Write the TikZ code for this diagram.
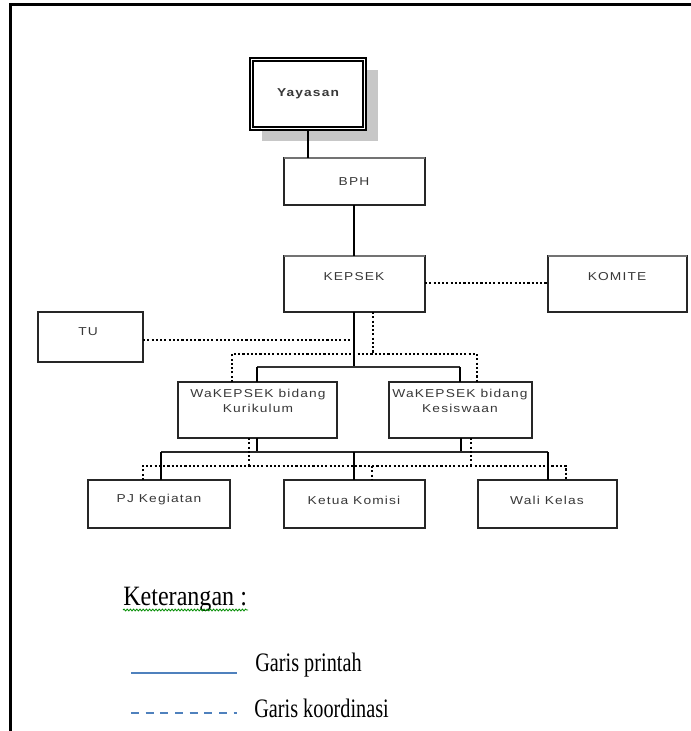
\documentclass[tikz,border=0pt]{standalone}
\usepackage{fontspec}
\setmainfont{Liberation Serif}
\newfontfamily\boxfont[FakeStretch=1.2,LetterSpace=10]{Liberation Sans}
\newfontfamily\legfont[FakeStretch=0.76]{Liberation Serif}
\newfontfamily\headfont[FakeStretch=0.86]{Liberation Serif}
\usetikzlibrary{decorations.pathmorphing}
\definecolor{legblue}{HTML}{4F81BD}
\tikzset{
  orgbox/.style={draw=black!85, line width=1.4pt, fill=white},
  topedge/.style={draw=black!55, line width=2.2pt},
  boxtext/.style={font=\boxfont\fontsize{8.6}{11}\selectfont, text=black!78, align=center, inner sep=0pt},
  cmd/.style={draw=black, line width=1.1pt},
  coord/.style={draw=black, line width=1.2pt, dash pattern=on 1.6pt off 1.6pt},
  legtext/.style={font=\legfont\fontsize{20}{22}\selectfont, anchor=base west, inner sep=0pt}
}
\begin{document}
\begin{tikzpicture}[x=0.75pt,y=-0.75pt]
\useasboundingbox (0,0) rectangle (691,731);
% page frame
\draw[line width=2.4pt] (10.5,731) -- (10.5,4.5) -- (691,4.5);

% Yayasan with shadow and double border
\fill[black!22] (262,70) rectangle (378,141);
\draw[fill=white, line width=2pt] (250,58) rectangle (366,130);
\draw[line width=0.8pt] (253,61) rectangle (363,127);
\node[boxtext, font=\boxfont\bfseries\fontsize{8.6}{11}\selectfont] (yay) at (308,94) {Yayasan};

% single boxes
\draw[orgbox] (284,158) rectangle (425,205);
\draw[topedge] (284,158) -- (425,158);
\node[boxtext] (bph) at (354,182) {BPH};

\draw[orgbox] (284,256) rectangle (425,312);
\draw[topedge] (284,256) -- (425,256);
\node[boxtext] (kep) at (354,277) {KEPSEK};

\draw[orgbox] (548,256) rectangle (687,312);
\draw[topedge] (548,256) -- (687,256);
\node[boxtext] (kom) at (617,277) {KOMITE};

\draw[orgbox] (38,312) rectangle (143,362);
\node[boxtext] (tu) at (88,332) {TU};

\draw[orgbox] (178,382) rectangle (337,438);
\node[boxtext] (kur) at (258,401) {WaKEPSEK bidang\\Kurikulum};

\draw[orgbox] (389,382) rectangle (532,438);
\node[boxtext] (kes) at (460,401) {WaKEPSEK bidang\\Kesiswaan};

\draw[orgbox] (88,480) rectangle (230,528);
\node[boxtext] (pj) at (159,500) {PJ Kegiatan};

\draw[orgbox] (284,480) rectangle (425,528);
\node[boxtext] (ket) at (354,500) {Ketua Komisi};

\draw[orgbox] (478,480) rectangle (617,528);
\node[boxtext] (wal) at (547,500) {Wali Kelas};

% command lines
\draw[cmd] (308,130) -- (308,158);
\draw[cmd] (354,205) -- (354,256);
\draw[cmd] (354,312) -- (354,367);
\draw[cmd, line width=1.6pt, draw=black!80] (257,367) -- (460,367);
\draw[cmd] (257,367) -- (257,382);
\draw[cmd] (460,367) -- (460,382);
\draw[cmd] (257,438) -- (257,452);
\draw[cmd] (461,438) -- (461,452);
\draw[cmd, line width=1.4pt, draw=black!85] (161,452) -- (548,452);
\draw[cmd] (161,452) -- (161,480);
\draw[cmd] (354,452) -- (354,480);
\draw[cmd] (548,452) -- (548,480);

% coordination lines
\draw[coord] (425,283) -- (548,283);
\draw[coord] (143,340) -- (350,340);
\draw[coord] (373,312) -- (373,354);
\draw[coord] (232,382) -- (232,354) -- (477,354) -- (477,382);
\draw[coord] (249,438) -- (249,466);
\draw[coord] (471,438) -- (471,466);
\draw[coord] (143,480) -- (143,466) -- (566,466) -- (566,480);
\draw[coord] (372,466) -- (372,480);

% legend
\node[font=\headfont\fontsize{21}{24}\selectfont, anchor=base west, inner sep=0pt] (leg) at (123,605) {Keterangan :};
\draw[green!55!black, line width=0.6pt, decorate, decoration={snake, amplitude=0.7pt, segment length=2.4pt}] (123,610) -- (248,610);
\node[legtext] (gp) at (255,671) {Garis printah};
\node[legtext] (gk) at (254,717) {Garis koordinasi};
\draw[legblue, line width=1.1pt] (131,673) -- (237,673);
\draw[legblue, line width=1pt, dash pattern=on 6pt off 5pt] (131,713) -- (237,713);
\end{tikzpicture}
\end{document}
